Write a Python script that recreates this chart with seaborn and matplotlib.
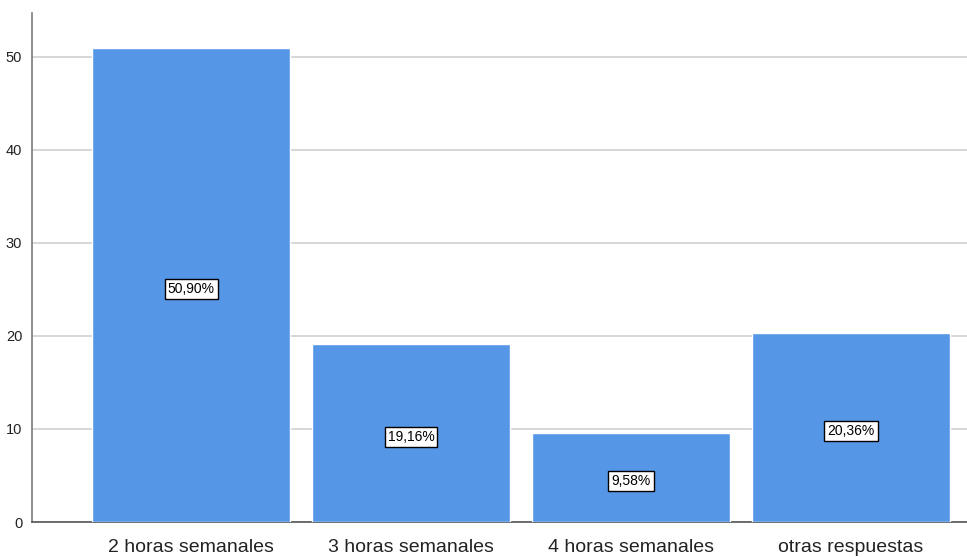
import matplotlib
matplotlib.use("Agg")
import matplotlib.pyplot as plt
import seaborn as sns
import pandas as pd

categorias = ["2 horas semanales", "3 horas semanales", "4 horas semanales", "otras respuestas"]
porcentajes = [50.90, 19.16, 9.58, 20.36]
etiquetas = ["50,90%", "19,16%", "9,58%", "20,36%"]

df = pd.DataFrame({"categoria": categorias, "porcentaje": porcentajes})

sns.set_style("white")
plt.rcParams["font.family"] = ["Liberation Sans", "DejaVu Sans"]

fig = plt.figure(figsize=(9.67, 5.57), dpi=100)
ax = fig.add_axes([0.0331, 0.0628, 0.9669, 0.9139])

sns.barplot(data=df, x="categoria", y="porcentaje", color="#5596E6",
            saturation=1, width=0.9, ax=ax, zorder=3)

# etiquetas en el centro de cada barra (un poco por debajo)
for i, (v, t) in enumerate(zip(porcentajes, etiquetas)):
    ax.text(i, v / 2 - 0.4, t, ha="center", va="center", fontsize=10, color="black",
            bbox=dict(boxstyle="square,pad=0.22", facecolor="white",
                      edgecolor="black", linewidth=1), zorder=5)

ax.set_xlim(-0.723, 3.527)
ax.set_ylim(0, 54.7)
ax.set_yticks([0, 10, 20, 30, 40, 50])
ax.yaxis.grid(True, color="#cfcfcf", linewidth=1.2, zorder=0)
ax.set_axisbelow(True)
ax.set_xlabel("")
ax.set_ylabel("")

for s in ["top", "right"]:
    ax.spines[s].set_visible(False)
ax.spines["left"].set_color("#7a7a7a")
ax.spines["bottom"].set_color("#555555")
ax.spines["left"].set_linewidth(1.2)
ax.spines["bottom"].set_linewidth(1.2)

ax.tick_params(axis="y", labelsize=10.5, length=0, pad=7, colors="#222222")
ax.tick_params(axis="x", labelsize=14, length=0, pad=12, colors="#222222")

fig.savefig("out.png", dpi=100)
